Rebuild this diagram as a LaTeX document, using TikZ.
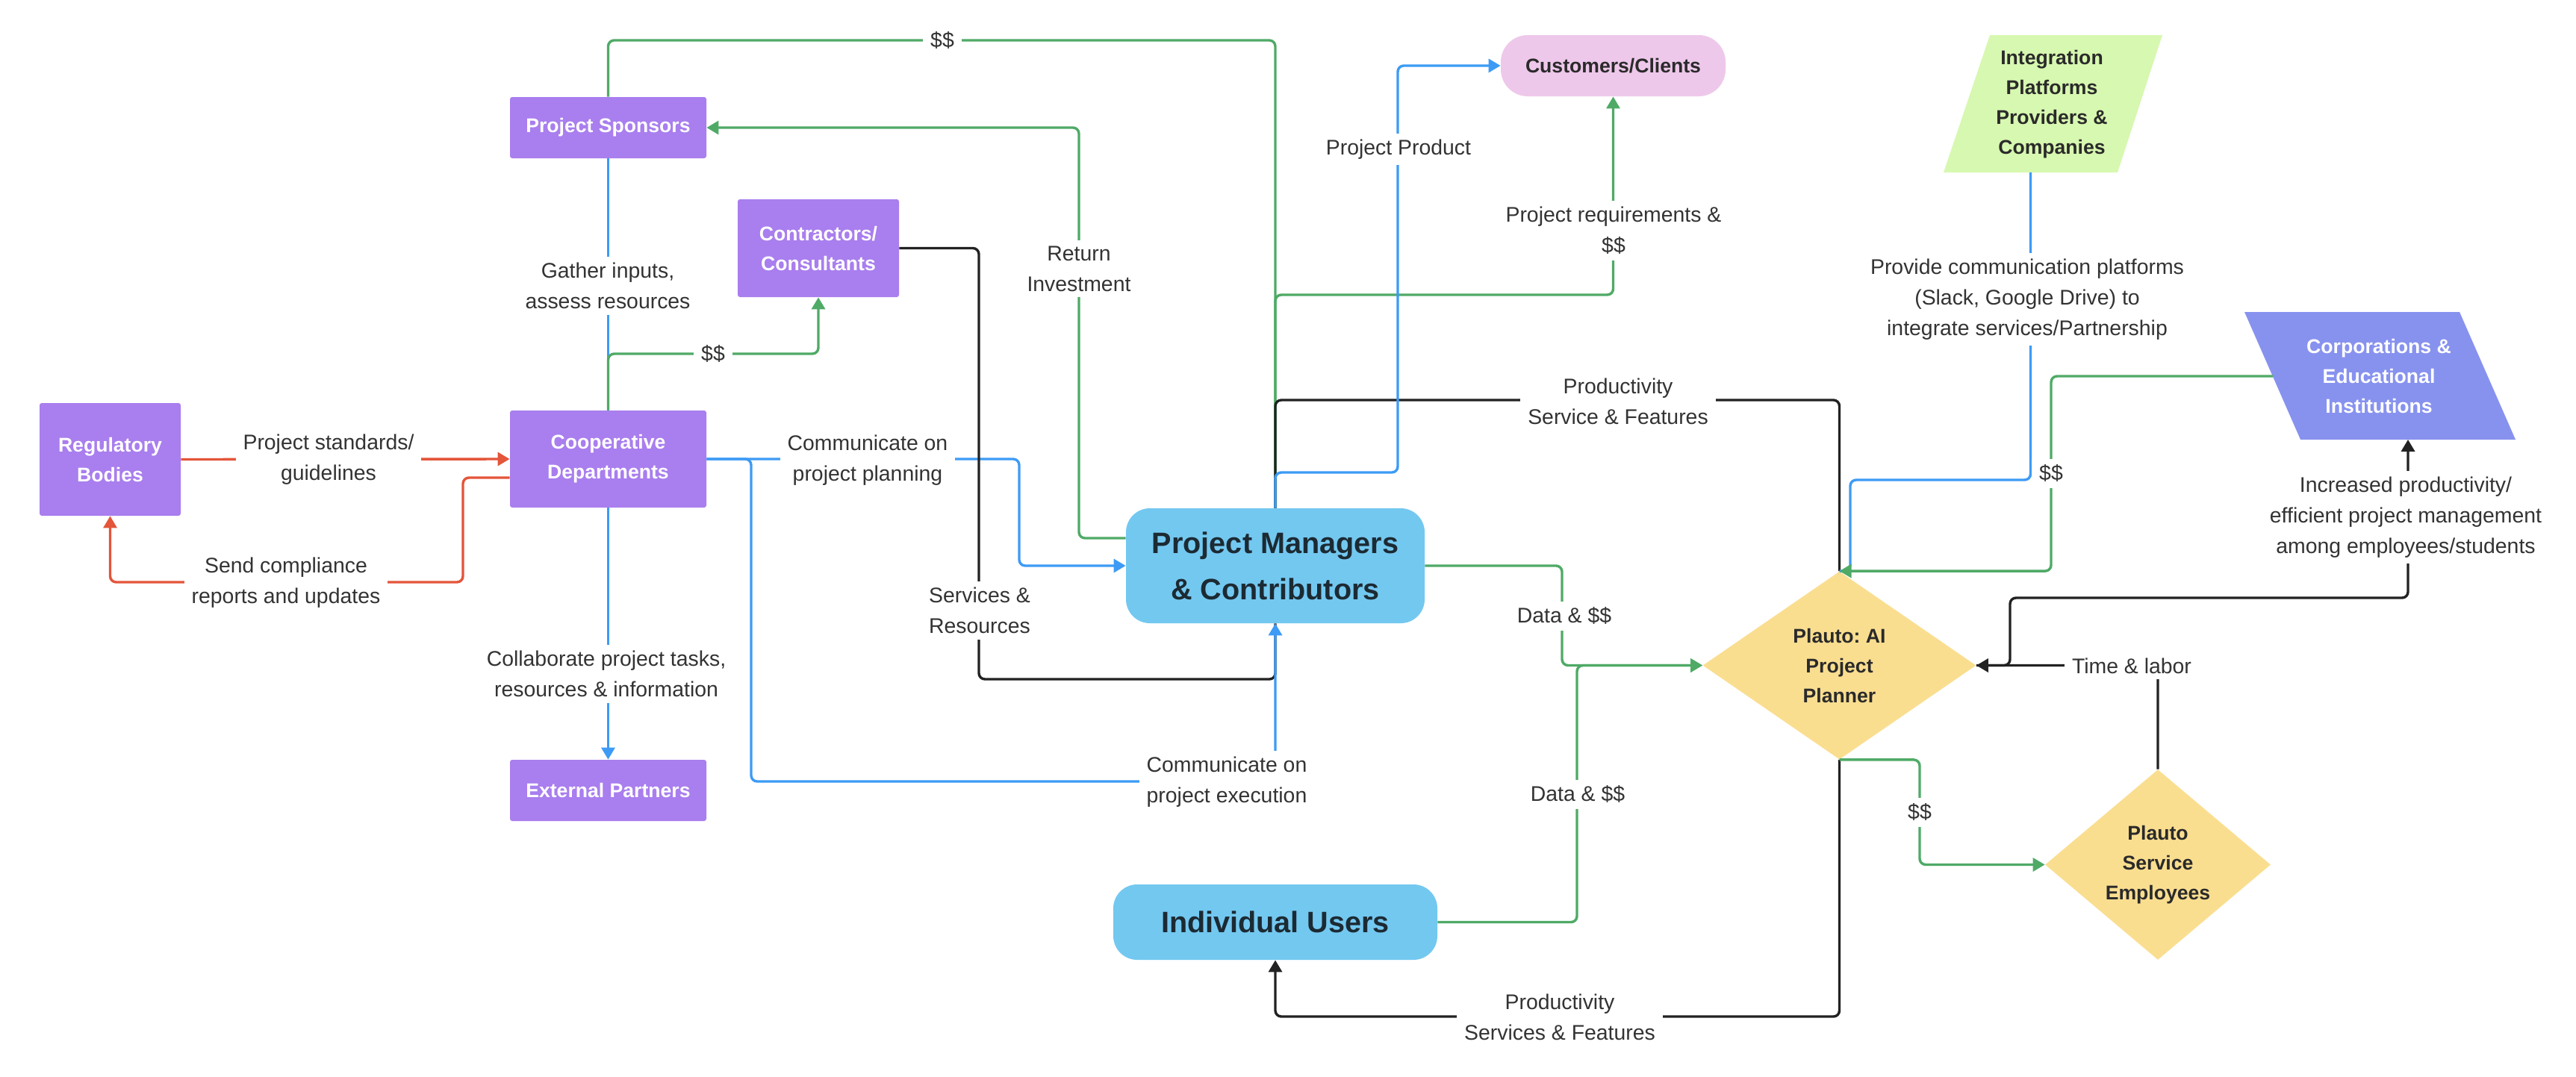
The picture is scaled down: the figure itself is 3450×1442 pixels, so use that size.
\documentclass[tikz,border=0pt]{standalone}
\usepackage{fontspec}
\setmainfont{Liberation Sans}
\usetikzlibrary{arrows.meta,shapes.geometric,calc}
\definecolor{purp}{HTML}{A97EEE}
\definecolor{skyb}{HTML}{73C8F0}
\definecolor{pinkc}{HTML}{EEC8EA}
\definecolor{yell}{HTML}{FADE90}
\definecolor{lgreen}{HTML}{D7F8B0}
\definecolor{peri}{HTML}{8792EF}
\definecolor{lgr}{HTML}{4FAA66}
\definecolor{lbl}{HTML}{3D9BF5}
\definecolor{lrd}{HTML}{E4553A}
\definecolor{lbk}{HTML}{222222}
\definecolor{txt}{HTML}{333333}
\definecolor{dtxt}{HTML}{2A2A2A}
\definecolor{navy}{HTML}{1C2A33}
\tikzset{
  boxtxt/.style={align=center, inner sep=0pt, font=\frenchspacing\fontsize{13.3}{20}\selectfont\bfseries},
  pbox/.style={boxtxt, rectangle, rounded corners=1.5pt, fill=purp, text=white},
  bigbox/.style={rectangle, align=center, inner sep=0pt, rounded corners=16pt, fill=skyb, text=navy, font=\fontsize{19.8}{31}\selectfont\bfseries},
  dia/.style={boxtxt, diamond, fill=yell, text=dtxt},
  lab/.style={fill=white, text=txt, align=center, inner xsep=5pt, inner ysep=4pt, font=\frenchspacing\fontsize{14.2}{20.5}\selectfont},
  conn/.style={line width=1.7pt, rounded corners=4pt},
  gline/.style={conn, draw=lgr},
  bline/.style={conn, draw=lbl},
  rline/.style={conn, draw=lrd},
  kline/.style={conn, draw=lbk},
  arrowend/.style={-{Triangle[length=8pt,width=9pt]}}
}
\begin{document}
\frenchspacing
\begin{tikzpicture}[x=0.5pt,y=-0.5pt]
\fill[white] (0,0) rectangle (3450,1442);
\useasboundingbox (0,0) rectangle (3450,1442);

% ---------- nodes ----------
\node[pbox, minimum width=131.5pt, minimum height=41pt] (spons) at (814.5,171) {Project Sponsors};
\node[pbox, minimum width=108pt, minimum height=65.5pt] (contr) at (1096,332.5) {Contractors/\\Consultants};
\node[pbox, minimum width=94.5pt, minimum height=75.5pt] (reg) at (147.5,615.5) {Regulatory\\Bodies};
\node[pbox, minimum width=131.5pt, minimum height=65pt] (coop) at (814.5,615) {Cooperative\\Departments};
\node[pbox, minimum width=131.5pt, minimum height=41pt] (ext) at (814.5,1059) {External Partners};
\node[bigbox, minimum width=200pt, minimum height=77pt] (pm) at (1708,758) {Project Managers\\\& Contributors};
\node[bigbox, minimum width=217pt, minimum height=50.5pt] (iu) at (1708,1235.5) {Individual Users};
\node[boxtxt, rectangle, rounded corners=18pt, fill=pinkc, text=dtxt, minimum width=150.5pt, minimum height=41pt] (cust) at (2160.5,88) {Customers/Clients};
\node[dia, minimum width=183pt, minimum height=126pt] (plan) at (2463.5,891.5) {Plauto: AI\\Project\\Planner};
\node[dia, minimum width=151pt, minimum height=127.5pt] (pse) at (2890,1158.5) {Plauto\\Service\\Employees};

\fill[lgreen] (2665,47) -- (2896,47) -- (2836,231) -- (2603,231) -- cycle;
\node[boxtxt, text=dtxt] (integ) at (2748,140) {Integration\\Platforms\\Providers \&\\Companies};
\coordinate (integS) at (2719.5,231);

\fill[peri] (3006,418) -- (3294,418) -- (3369,589) -- (3081,589) -- cycle;
\node[boxtxt, text=white] (corp) at (3186,504) {Corporations \&\\Educational\\Institutions};
\coordinate (corpS) at (3225,589);
\coordinate (corpW) at (3044,504);

% ---------- connectors ----------
\draw[rline, arrowend] (reg.east) -- (coop.west);
\draw[rline, arrowend] ([yshift=-12.5pt]coop.west) -| (620,780) -| (reg.south);

\draw[bline] (spons.south) -- (coop.north);
\draw[gline, arrowend] (coop.north) -- (coop.north |- 0,474) -| (contr.south);
\draw[bline, arrowend] (coop.south) -- (ext.north);

\draw[gline] (spons.north) |- (pm.north |- 0,54) -- (pm.north);
\draw[gline, arrowend] ([yshift=18.5pt]pm.west) -| (spons.east -| 1445,0) -- (spons.east);
\draw[gline, arrowend] (pm.north) -- (pm.north |- 0,395) -| (cust.south);
\draw[kline] (pm.north) -- (pm.north |- 0,536) -| (plan.north);
\draw[bline, arrowend] (pm.north) -- (pm.north |- 0,633) -| (cust.west -| 1872,0) -- (cust.west);

\draw[bline, arrowend] (coop.east) -- (coop.east -| 1365,0) |- (pm.west);
\draw[kline] (contr.east) -| (1311,910) -| (pm.south);
\draw[bline, arrowend] (coop.east) -- (coop.east -| 1006,0) |- (pm.south |- 0,1047) -- (pm.south);

\draw[gline, arrowend] (pm.east) -| (2092,825) |- (plan.west);
\draw[gline, arrowend] (iu.east) -| (2112,891.5) -- (plan.west);
\draw[kline, arrowend] (plan.south) |- (iu.south |- 0,1362) -- (iu.south);
\draw[gline, arrowend] (plan.south) -| (2571,1100) |- (pse.west);
\draw[kline, arrowend] (pse.north) |- (plan.east);
\draw[kline, arrowend] (plan.east) -| (2692,801) -| (corpS);

\draw[bline] (integS) |- (2478,643) |- (plan.north);
\draw[gline, arrowend] (corpW) -| (2747,700) |- (plan.north);

% ---------- labels ----------
\node[lab] (l1) at (440,616) {Project standards/\\guidelines};
\node[lab] (l2) at (383,781) {Send compliance\\reports and updates};
\node[lab] (l3) at (814,383) {Gather inputs,\\assess resources};
\node[lab] (l4) at (955,474) {\$\$};
\node[lab] (l5) at (812,903) {Collaborate project tasks,\\resources \& information};
\node[lab] (l6) at (1262,54) {\$\$};
\node[lab] (l7) at (1445,360) {Return\\Investment};
\node[lab] (l8) at (1162,617) {Communicate on\\project planning};
\node[lab] (l9) at (1312,818) {Services \&\\Resources};
\node[lab] (l10) at (1643,1048) {Communicate on\\project execution};
\node[lab] (l11) at (1873,200) {Project Product};
\node[lab] (l12) at (2161,309) {Project requirements \&\\\$\$};
\node[lab] (l13) at (2167,538) {Productivity\\Service \& Features};
\node[lab] (l14) at (2095,825) {Data \& \$\$};
\node[lab] (l15) at (2113,1064) {Data \& \$\$};
\node[lab] (l16) at (2089,1363) {Productivity\\Services \& Features};
\node[lab] (l17) at (2571,1088) {\$\$};
\node[lab] (l18) at (2855,892) {Time \& labor};
\node[lab] (l19) at (3222,693) {Increased productivity/\\efficient project management\\among employees/students};
\node[lab] (l20) at (2715,401) {Provide communication platforms\\(Slack, Google Drive) to\\integrate services/Partnership};
\node[lab] (l21) at (2747,634) {\$\$};
\end{tikzpicture}
\end{document}
